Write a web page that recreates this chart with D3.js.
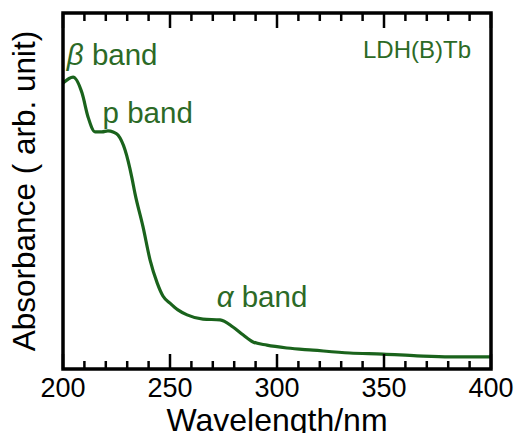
<!DOCTYPE html>
<html lang="en">
<head>
    <meta charset="UTF-8">
    <title>LDH(B)Tb absorbance</title>
    <script src="https://d3js.org/d3.v7.min.js"></script>
    <style>
        body { margin: 0; background: #fff; }
        svg { display: block; }
        text { font-family: "Liberation Sans", Arial, sans-serif; }
    </style>
</head>
<body>
<div id="chart"></div>
<script>
    // spectrum (arbitrary units)
    const wavelength = [200, 204.7, 208.9, 211.7, 215, 218.2, 221, 223.4, 225.7, 229, 232.2, 233.6, 237.4, 240.7,
        244, 246.7, 250, 253.7, 258, 265.4, 273.4, 279.4, 284.1, 288.8, 295.3, 304.7, 316.8, 334, 349.5, 365.4, 380.8, 400];
    const absorbance = [0.803, 0.82, 0.775, 0.708, 0.666, 0.666, 0.669, 0.666, 0.657, 0.615, 0.537, 0.494, 0.399, 0.306,
        0.242, 0.205, 0.185, 0.166, 0.152, 0.14, 0.138, 0.118, 0.096, 0.076, 0.067, 0.059, 0.053, 0.045, 0.042, 0.037, 0.034, 0.034];
    const xTicks = [200, 250, 300, 350, 400];
    const bandLabels = [
        {greek: "β", text: " band", x: 201.8, y: 0.855},
        {greek: "", text: "p band", x: 218.5, y: 0.69},
        {greek: "α", text: " band", x: 271.8, y: 0.174}
    ];
    const sampleName = "LDH(B)Tb";

    const width = 517, height = 433;
    const margin = {top: 13, right: 26, bottom: 64, left: 63};
    const lineColor = "#1a631c";
    const textColor = "#2c6a26";

    const svg = d3.select("#chart").append("svg")
        .attr("width", width)
        .attr("height", height);

    const x = d3.scaleLinear().domain([200, 400]).range([margin.left, width - margin.right]);
    const y = d3.scaleLinear().domain([0, 1]).range([height - margin.bottom, margin.top]);

    const data = wavelength.map((w, i) => ({w, a: absorbance[i]}));

    const line = d3.line()
        .x(d => x(d.w))
        .y(d => y(d.a))
        .curve(d3.curveMonotoneX);

    svg.append("path")
        .datum(data)
        .attr("fill", "none")
        .attr("stroke", lineColor)
        .attr("stroke-width", 3.2)
        .attr("stroke-linejoin", "round")
        .attr("d", line);

    // ticks inside the frame, bottom and top
    const minor = d3.range(200, 401, 10);
    const tickLen = v => (v % 50 === 0 ? 15 : 8);
    const ticks = svg.append("g").attr("stroke", "#000").attr("stroke-width", 2.5);
    ticks.selectAll("line.b").data(minor).join("line").attr("class", "b")
        .attr("x1", d => x(d)).attr("x2", d => x(d))
        .attr("y1", y(0)).attr("y2", d => y(0) - tickLen(d));
    ticks.selectAll("line.t").data(minor).join("line").attr("class", "t")
        .attr("x1", d => x(d)).attr("x2", d => x(d))
        .attr("y1", y(1)).attr("y2", d => y(1) + tickLen(d));

    svg.append("rect")
        .attr("x", x(200)).attr("y", y(1))
        .attr("width", x(400) - x(200)).attr("height", y(0) - y(1))
        .attr("fill", "none").attr("stroke", "#000").attr("stroke-width", 3.5);

    svg.append("g").selectAll("text").data(xTicks).join("text")
        .attr("x", d => x(d)).attr("y", y(0) + 28)
        .attr("text-anchor", "middle")
        .attr("font-size", 27)
        .text(d => d);

    svg.append("text")
        .attr("x", (x(200) + x(400)) / 2).attr("y", 431)
        .attr("text-anchor", "middle")
        .attr("font-size", 32)
        .text("Wavelength/nm");

    svg.append("text")
        .attr("transform", `translate(35,${(y(0) + y(1)) / 2}) rotate(-90)`)
        .attr("text-anchor", "middle")
        .attr("font-size", 31.5)
        .text("Absorbance ( arb. unit)");

    const bands = svg.append("g").attr("fill", textColor).attr("font-size", 29.5);
    bandLabels.forEach(b => {
        const t = bands.append("text").attr("x", x(b.x)).attr("y", y(b.y));
        if (b.greek) t.append("tspan").attr("font-style", "italic").text(b.greek);
        t.append("tspan").text(b.text);
    });

    svg.append("text")
        .attr("x", 471).attr("y", 58)
        .attr("text-anchor", "end")
        .attr("fill", textColor)
        .attr("font-size", 24)
        .text(sampleName);
</script>
</body>
</html>
